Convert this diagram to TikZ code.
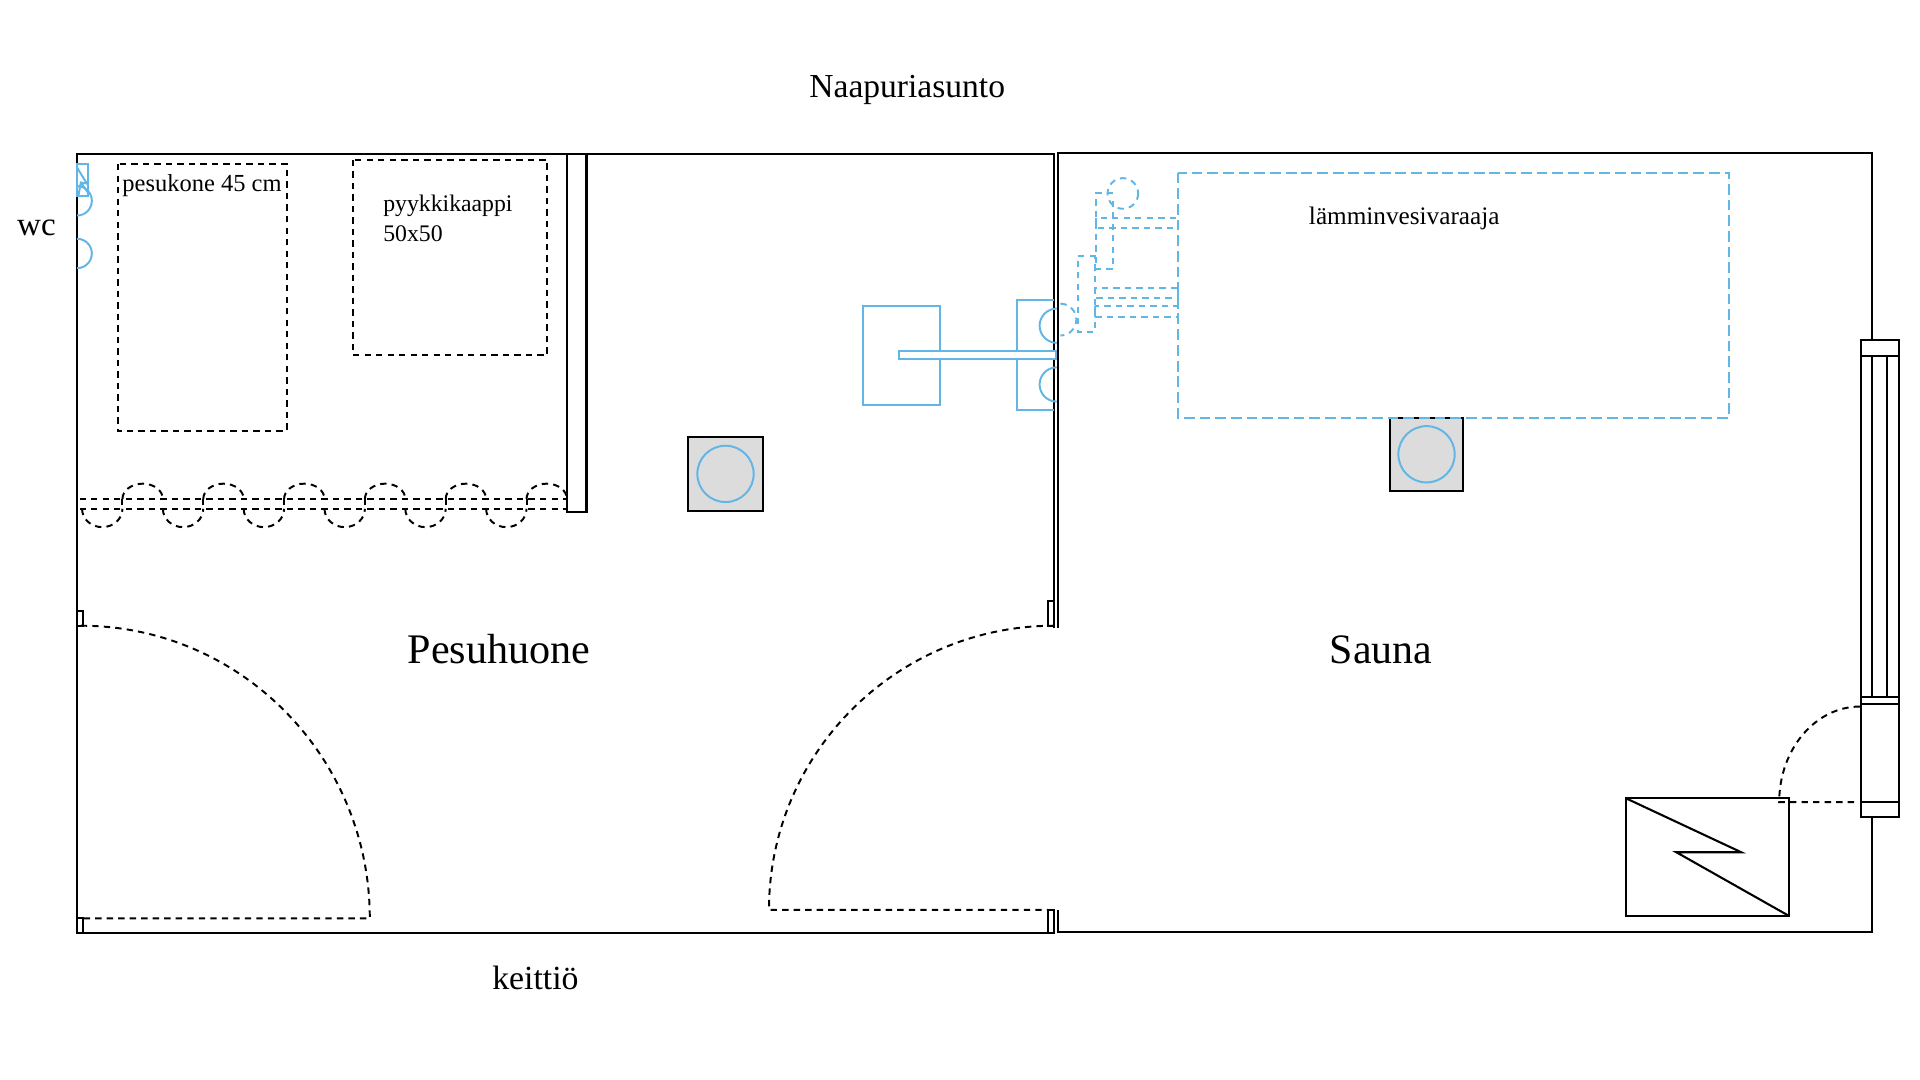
\documentclass[tikz,border=0pt]{standalone}
\usepackage{fontspec}
\setmainfont{Liberation Serif}
\definecolor{pipe}{HTML}{62B6E6}
\definecolor{postfill}{HTML}{DCDCDC}
\tikzset{
  wall/.style={draw=black,line width=0.85pt},
  thin wall/.style={draw=black,line width=0.75pt},
  hidden/.style={draw=black,line width=0.8pt,dash pattern=on 2.6pt off 2.1pt},
  pipeline/.style={draw=pipe,line width=0.8pt},
  pipedash/.style={draw=pipe,line width=0.8pt,dash pattern=on 2.6pt off 2.1pt},
  bigdash/.style={draw=pipe,line width=0.8pt,dash pattern=on 4.4pt off 2pt},
  post/.style={draw=black,line width=0.8pt,fill=postfill},
  lbl/.style={inner sep=0pt,outer sep=0pt,anchor=base west,align=left}
}
\begin{document}
\begin{tikzpicture}[x=0.5pt,y=-0.5pt]
\useasboundingbox (0,0) rectangle (1568,882);
% rooms
\draw[wall] (861,513) -- (861,126) -- (63,126) -- (63,762) -- (857,762);
\draw[wall] (864,513) -- (864,125) -- (1529,125) -- (1529,278);
\draw[wall] (864,743) -- (864,761) -- (1529,761) -- (1529,667);
% inner partition
\draw[wall] (463,126) -- (463,418) -- (479,418) -- (479,126);
% door jambs
\draw[thin wall] (63,499) -- (68,499) -- (68,511) -- (63,511);
\draw[thin wall] (63,750) -- (68,750) -- (68,762);
\draw[wall] (861,491) -- (856,491) -- (856,511) -- (861,511);
\draw[wall] (861,743) -- (856,743) -- (856,762) -- (861,762) -- cycle;
% doors
\draw[hidden] (66,511) arc[start angle=-90,end angle=0,x radius=236,y radius=239] -- (67,750);
\draw[hidden] (861,511) arc[start angle=-90,end angle=-180,x radius=233,y radius=232] -- (856,743);
\draw[hidden] (1519,577) arc[start angle=-90,end angle=-180,x radius=66,y radius=78] -- (1518,655);
% furniture
\draw[hidden] (96,134) rectangle (234,352);
\draw[hidden] (288,130.5) rectangle (447,290);
% curtain
\draw[hidden] (65,407.5) -- (463,407.5);
\draw[hidden] (65,415.5) -- (463,415.5);
\foreach \i in {0,...,5}{
  \pgfmathsetmacro{\xa}{67+66*\i}
  \pgfmathsetmacro{\xb}{100+66*\i}
  \draw[hidden] (\xa,415.5) arc[start angle=180,end angle=0,x radius=16.5,y radius=15];
  \draw[hidden] (\xb,407.5) arc[start angle=180,end angle=0,x radius=16.5,y radius=-12.5];
  \draw[hidden] (\xa+33,407.5) -- (\xa+33,415.5);
}
% posts
\node[post,minimum width=30.5pt,minimum height=30pt,inner sep=0pt] (postA) at (592.5,387) {};
\node[post,minimum width=30pt,minimum height=30pt,inner sep=0pt] (postB) at (1165,371) {};
\draw[pipeline] (592.5,387) circle[radius=23];
\draw[pipeline] (1165,371) circle[radius=23];
% blue fixtures, Pesuhuone
\draw[pipeline] (705,250) rectangle (768,331);
\draw[pipeline] (861,245) -- (830.5,245) -- (830.5,335) -- (861,335);
\draw[pipeline,fill=white] (734,287) rectangle (862,293);
\draw[pipeline] (863,252) arc[start angle=-90,end angle=-270,radius=14];
\draw[pipeline] (863,300) arc[start angle=-90,end angle=-270,radius=14];
% blue fixtures, wc wall
\draw[pipeline] (63,134) rectangle (72,160);
\draw[pipeline] (63,137) -- (71,150) -- (66,149) -- (64,160) (66,149) -- (73,159);
\draw[pipeline] (63,152) arc[start angle=-90,end angle=90,radius=12];
\draw[pipeline] (63,195) arc[start angle=-90,end angle=90,radius=12];
% water heater
\draw[bigdash] (962,141) rectangle (1412,341);
\draw[pipedash] (917,158) circle[radius=12.5];
\draw[pipedash] (909,158) -- (895,158) -- (895,220) -- (909,220) -- (909,160);
\draw[pipedash] (895,209) -- (880,209) -- (880,271) -- (894,271) -- (894,209);
\draw[pipedash] (895,178) rectangle (962,186);
\draw[pipedash] (894,235) rectangle (962,243);
\draw[pipedash] (894,250) rectangle (962,259);
\draw[pipedash] (866,248) arc[start angle=-90,end angle=90,radius=13];
% stove
\draw[wall] (1328,652) rectangle (1461,748);
\draw[wall] (1328,652) -- (1422,696) -- (1369,696) -- (1461,748);
% window
\draw[thin wall] (1520,278) rectangle (1551,667);
\draw[thin wall] (1520,291) -- (1551,291);
\draw[thin wall] (1529,291) -- (1529,569) (1541,291) -- (1541,569);
\draw[thin wall] (1520,569) -- (1551,569) (1520,575) -- (1551,575);
\draw[thin wall] (1520,655) -- (1551,655);
% texts
\node[lbl,font=\fontsize{13.7}{16}\selectfont] (n1) at (661,80) {Naapuriasunto};
\node[lbl,font=\fontsize{13.5}{16}\selectfont] (n2) at (14,192) {wc};
\node[lbl,font=\fontsize{13.8}{16}\selectfont] (n3) at (402,808) {keittiö};
\node[lbl,font=\fontsize{17.2}{20}\selectfont] (n4) at (333,542) {Pesuhuone};
\node[lbl,font=\fontsize{17.1}{20}\selectfont] (n5) at (1086,542) {Sauna};
\node[lbl,font=\fontsize{10}{12}\selectfont] (n6) at (100,156) {pesukone 45 cm};
\node[lbl,font=\fontsize{9.7}{12}\selectfont] (n7) at (313,173) {pyykkikaappi};
\node[lbl,font=\fontsize{9.7}{12}\selectfont] (n8) at (313,197) {50x50};
\node[lbl,font=\fontsize{10.3}{12}\selectfont] (n9) at (1069,183) {lämminvesivaraaja};
\end{tikzpicture}
\end{document}
